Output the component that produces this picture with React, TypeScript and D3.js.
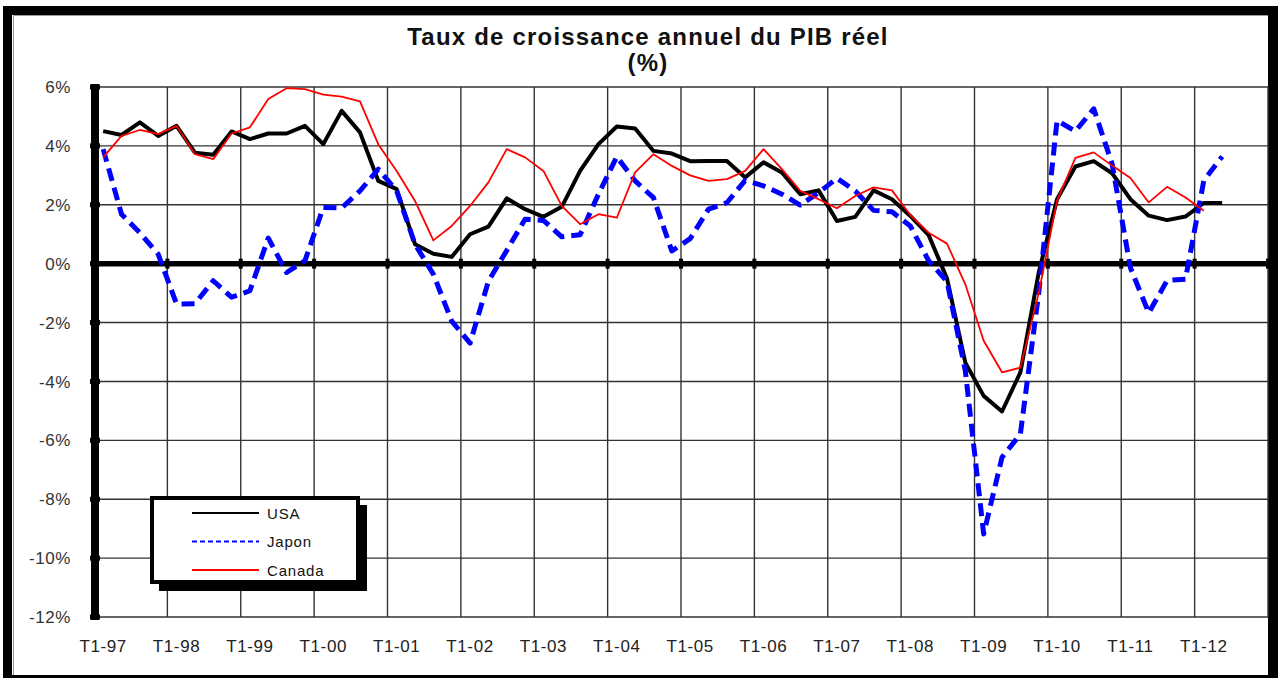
import * as d3 from 'd3';

// quarterly categories T1-97 … T4-12
const years = ['97', '98', '99', '00', '01', '02', '03', '04', '05', '06', '07', '08', '09', '10', '11', '12'];
const quarters = ['T1', 'T2', 'T3', 'T4'];
const categories = years.flatMap((yr) => quarters.map((q) => `${q}-${yr}`));

const usa = [
    4.5, 4.37, 4.8, 4.34, 4.68, 3.77, 3.7, 4.49, 4.23, 4.42,
    4.42, 4.68, 4.06, 5.19, 4.46, 2.81, 2.53, 0.66, 0.34, 0.23,
    1.0, 1.26, 2.22, 1.85, 1.59, 1.93, 3.15, 4.06, 4.66, 4.59,
    3.83, 3.74, 3.48, 3.49, 3.49, 2.93, 3.44, 3.1, 2.36, 2.49,
    1.45, 1.59, 2.49, 2.19, 1.62, 0.97, -0.5, -3.36, -4.49, -5.02,
    -3.69, -0.3, 2.19, 3.3, 3.48, 3.07, 2.19, 1.63, 1.48, 1.6,
    2.06, 2.06,
];

const japon = [
    3.89, 1.68, 1.05, 0.32, -1.37, -1.36, -0.58, -1.14, -0.92, 0.87,
    -0.3, 0.1, 1.91, 1.89, 2.47, 3.21, 2.47, 0.66, -0.36, -1.95,
    -2.7, -0.6, 0.45, 1.51, 1.47, 0.91, 0.98, 2.36, 3.63, 2.81,
    2.24, 0.43, 0.85, 1.85, 2.07, 2.83, 2.64, 2.36, 1.99, 2.41,
    2.9, 2.47, 1.81, 1.76, 1.28, 0.1, -0.6, -3.64, -9.18, -6.58,
    -5.79, -1.0, 4.86, 4.5, 5.26, 3.39, -0.14, -1.67, -0.57, -0.53,
    2.82, 3.64,
];

const canada = [
    3.61, 4.34, 4.54, 4.4, 4.68, 3.72, 3.55, 4.42, 4.63, 5.59,
    5.96, 5.93, 5.74, 5.67, 5.51, 4.05, 3.15, 2.13, 0.79, 1.28,
    1.96, 2.76, 3.89, 3.61, 3.15, 1.96, 1.34, 1.68, 1.56, 3.1,
    3.72, 3.32, 3.0, 2.81, 2.87, 3.15, 3.89, 3.21, 2.47, 2.19,
    1.88, 2.3, 2.59, 2.49, 1.65, 1.05, 0.68, -0.7, -2.62, -3.69,
    -3.53, -1.0, 2.14, 3.59, 3.78, 3.33, 2.91, 2.08, 2.61, 2.25,
    1.8,
];

const yTicks = [6, 4, 2, 0, -2, -4, -6, -8, -10, -12];

const W = 1278;
const H = 678;
const FONT = '"Liberation Sans", Arial, sans-serif';

const series = [
    { name: 'USA', values: usa, color: '#000000', width: 4, dash: null, legendDash: null, legendWidth: 2 },
    { name: 'Japon', values: japon, color: '#0000ff', width: 5, dash: '13 7', legendDash: '5 3', legendWidth: 2 },
    { name: 'Canada', values: canada, color: '#ff0000', width: 1.8, dash: null, legendDash: null, legendWidth: 2 },
];

export default function App() {
    const x = d3.scaleBand().domain(categories).range([94, 1268]);
    const y = d3.scaleLinear().domain([-12, 6]).range([617, 87]);
    const cx = (i: number) => (x(categories[i]) ?? 0) + x.bandwidth() / 2;
    const [x0, x1] = x.range();

    const line = d3
        .line<number>()
        .x((_, i) => cx(i))
        .y((d) => y(d));

    // year boundaries carry the vertical grid
    const yearEdges = categories.filter((_, i) => i % 4 === 0 && i > 0).map((c) => x(c) ?? 0);
    yearEdges.push(x1);

    const legendX = 152;
    const legendY = 498;

    return (
        <svg
            width={W}
            height={H}
            style={{ position: 'absolute', left: 0, top: 0, background: '#fff' }}
            fontFamily={FONT}
        >
            {/* outer frame */}
            <rect x={3} y={6} width={W - 3} height={H - 6} fill="#000" />
            <rect x={12} y={15} width={1256} height={660} fill="#fff" />
            <path d="M13.5,675 V15.5 H1268" fill="none" stroke="#999" strokeWidth={1} />

            <text x={648} y={45} textAnchor="middle" fontSize={24} fontWeight="bold" letterSpacing={1.2} fill="#111">
                Taux de croissance annuel du PIB réel
            </text>
            <text x={648} y={71} textAnchor="middle" fontSize={24} fontWeight="bold" letterSpacing={1.2} fill="#111">
                (%)
            </text>

            {/* grid */}
            {yTicks.map((t) => (
                <line key={`h${t}`} x1={x0} x2={x1} y1={y(t)} y2={y(t)} stroke="#333" strokeWidth={1.4} />
            ))}
            {yearEdges.map((ex, i) => (
                <line key={`v${i}`} x1={ex} x2={ex} y1={y(6)} y2={y(-12)} stroke="#333" strokeWidth={1.4} />
            ))}

            {/* y labels */}
            {yTicks.map((t) => (
                <text
                    key={`yl${t}`}
                    x={71}
                    y={y(t)}
                    dy="0.36em"
                    textAnchor="end"
                    fontSize={17}
                    letterSpacing={0.6}
                    fill="#333"
                >
                    {`${t}%`}
                </text>
            ))}

            {/* x labels, first quarter of each year */}
            {categories
                .filter((c) => c.startsWith('T1'))
                .map((c) => (
                    <text
                        key={`xl${c}`}
                        x={(x(c) ?? 0) + x.bandwidth() / 2}
                        y={652}
                        textAnchor="middle"
                        fontSize={17}
                        letterSpacing={0.6}
                        fill="#222"
                    >
                        {c}
                    </text>
                ))}

            {/* zero line and its ticks */}
            <line x1={x0} x2={x1} y1={y(0)} y2={y(0)} stroke="#000" strokeWidth={5.5} />
            {yearEdges.map((ex, i) => (
                <rect key={`zt${i}`} x={ex - 2} y={y(0) - 5} width={4} height={10} fill="#000" />
            ))}

            {/* y axis */}
            <line x1={95} x2={95} y1={y(6) - 3} y2={y(-12) + 3} stroke="#000" strokeWidth={8} />
            {yTicks.map((t) => (
                <rect key={`yt${t}`} x={90} y={y(t) - 2.5} width={10} height={5} fill="#000" />
            ))}

            {/* series */}
            {series.map((s) => (
                <path
                    key={s.name}
                    d={line(s.values) ?? ''}
                    fill="none"
                    stroke={s.color}
                    strokeWidth={s.width}
                    strokeDasharray={s.dash ?? undefined}
                    strokeLinejoin="round"
                />
            ))}

            {/* legend */}
            <rect x={legendX + 7} y={legendY + 7} width={208} height={86} fill="#000" />
            <rect x={legendX} y={legendY} width={206} height={84} fill="#fff" stroke="#000" strokeWidth={4} />
            {series.map((s, i) => {
                const ly = legendY + 15 + i * 28.5;
                return (
                    <g key={`lg${s.name}`}>
                        <line
                            x1={192}
                            x2={259}
                            y1={ly}
                            y2={ly}
                            stroke={s.color}
                            strokeWidth={s.legendWidth}
                            strokeDasharray={s.legendDash ?? undefined}
                        />
                        <text x={267} y={ly + 5.5} fontSize={15} letterSpacing={0.8} fill="#111">
                            {s.name}
                        </text>
                    </g>
                );
            })}
        </svg>
    );
}
